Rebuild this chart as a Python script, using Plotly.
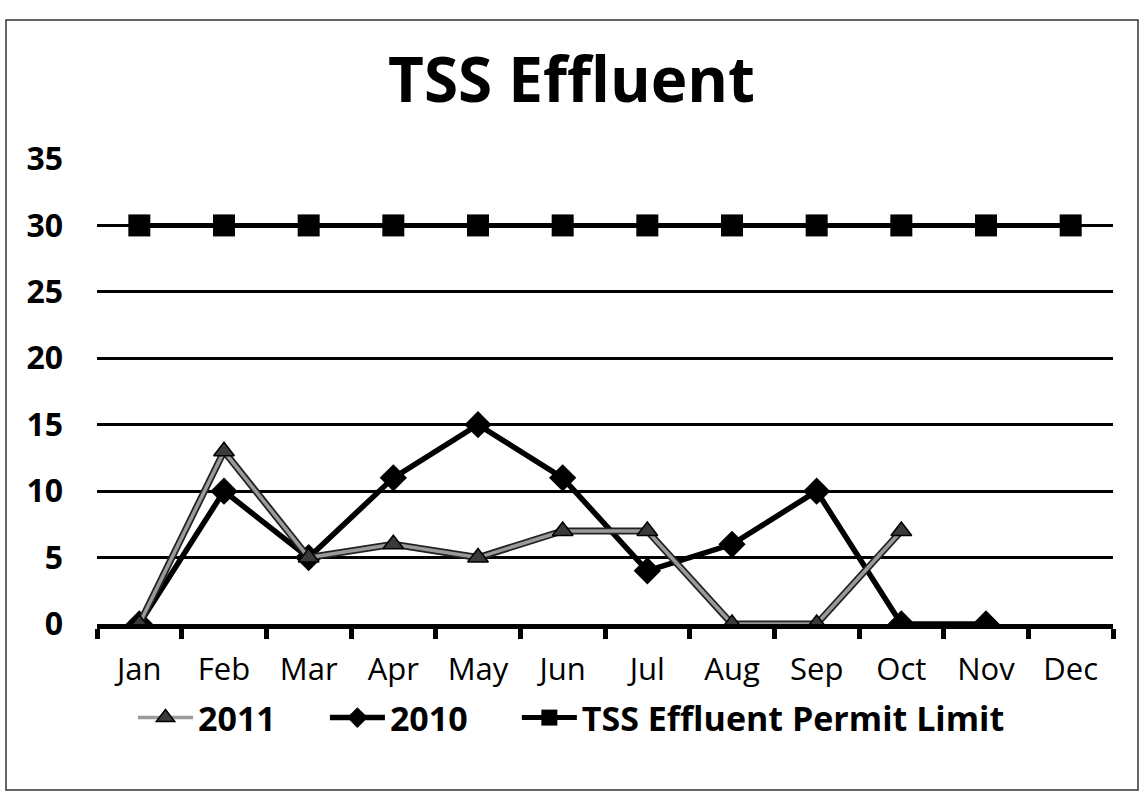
import plotly.graph_objects as go

months = ["Jan", "Feb", "Mar", "Apr", "May", "Jun", "Jul", "Aug", "Sep", "Oct", "Nov", "Dec"]
y2011 = [0, 13, 5, 6, 5, 7, 7, 0, 0, 7, None, None]
y2010 = [0, 10, 5, 11, 15, 11, 4, 6, 10, 0, 0, None]
permit = [30, 30, 30, 30, 30, 30, 30, 30, 30, 30, 30, 30]
y_ticks = [0, 5, 10, 15, 20, 25, 30, 35]
series_names = ["2011", "2010", "TSS Effluent Permit Limit"]

FONT = "Open Sans"
W, H = 1143, 792
L, R, T, B = 97, 30, 159, 168
PW, PH = W - L - R, H - T - B
PAD = "\u00a0" * 5  # spacing between legend entries

fig = go.Figure()
# permit limit
fig.add_trace(go.Scatter(
    x=months, y=permit, name=series_names[2], mode="lines+markers",
    line=dict(color="black", width=5),
    marker=dict(symbol="square", size=22, color="black"),
    legendrank=3,
))
# 2010
fig.add_trace(go.Scatter(
    x=months, y=y2010, name=series_names[1] + PAD, mode="lines+markers",
    line=dict(color="black", width=5.5),
    marker=dict(symbol="diamond", size=21, color="black"),
    legendrank=2,
))
# 2011 outline (dark edge of the grey line)
fig.add_trace(go.Scatter(
    x=months, y=y2011, name="2011 edge", mode="lines",
    line=dict(color="#222222", width=7),
    showlegend=False, hoverinfo="skip",
))
fig.add_trace(go.Scatter(
    x=months, y=y2011, name=series_names[0] + PAD, mode="lines+markers",
    line=dict(color="#9a9a9a", width=3.5),
    marker=dict(symbol="triangle-up", size=18, color="#3a3a3a",
                line=dict(color="black", width=1.5)),
    legendrank=1,
))

fig.update_layout(
    width=W, height=H,
    paper_bgcolor="white", plot_bgcolor="white",
    margin=dict(l=L, r=R, t=T, b=B, autoexpand=False),
    title=dict(text="<b>TSS Effluent</b>", x=0.5, xanchor="center",
               xref="container", yref="container", y=1 - 80 / H, yanchor="middle",
               font=dict(family=FONT, size=62, color="black")),
    font=dict(family=FONT, color="black"),
    legend=dict(orientation="h", x=(133 - L) / PW, xanchor="left", xref="paper",
                yref="container", y=1 - 718 / H, yanchor="middle",
                itemwidth=55,
                font=dict(family=FONT, size=34, color="black", weight="bold"),
                traceorder="normal", bgcolor="rgba(0,0,0,0)"),
    shapes=[dict(type="rect", xref="paper", yref="paper",
                 x0=(6 - L) / PW, x1=(1138 - L) / PW,
                 y0=-(790 - (H - B)) / PH, y1=((H - B) - 20) / PH,
                 line=dict(color="#333333", width=1.5))],
)
fig.update_xaxes(
    categoryorder="array", categoryarray=months, range=[-0.5, len(months) - 0.5],
    showline=True, linecolor="black", linewidth=5,
    ticks="outside", tickson="boundaries", ticklen=10, tickwidth=5, tickcolor="black",
    tickfont=dict(family=FONT, size=31, color="black"), ticklabelstandoff=14,
    showgrid=False, zeroline=False, automargin=False,
)
fig.update_yaxes(
    range=[0, 35], tickvals=y_ticks,
    showgrid=True, gridcolor="black", gridwidth=2.5,
    zeroline=False, showline=False, automargin=False,
    tickfont=dict(family=FONT, size=32, color="black", weight="bold"),
    ticks="", ticklabelstandoff=33,
)

fig.write_html("out.html", config={"displayModeBar": False},
               post_script="document.body.style.margin='0';")
